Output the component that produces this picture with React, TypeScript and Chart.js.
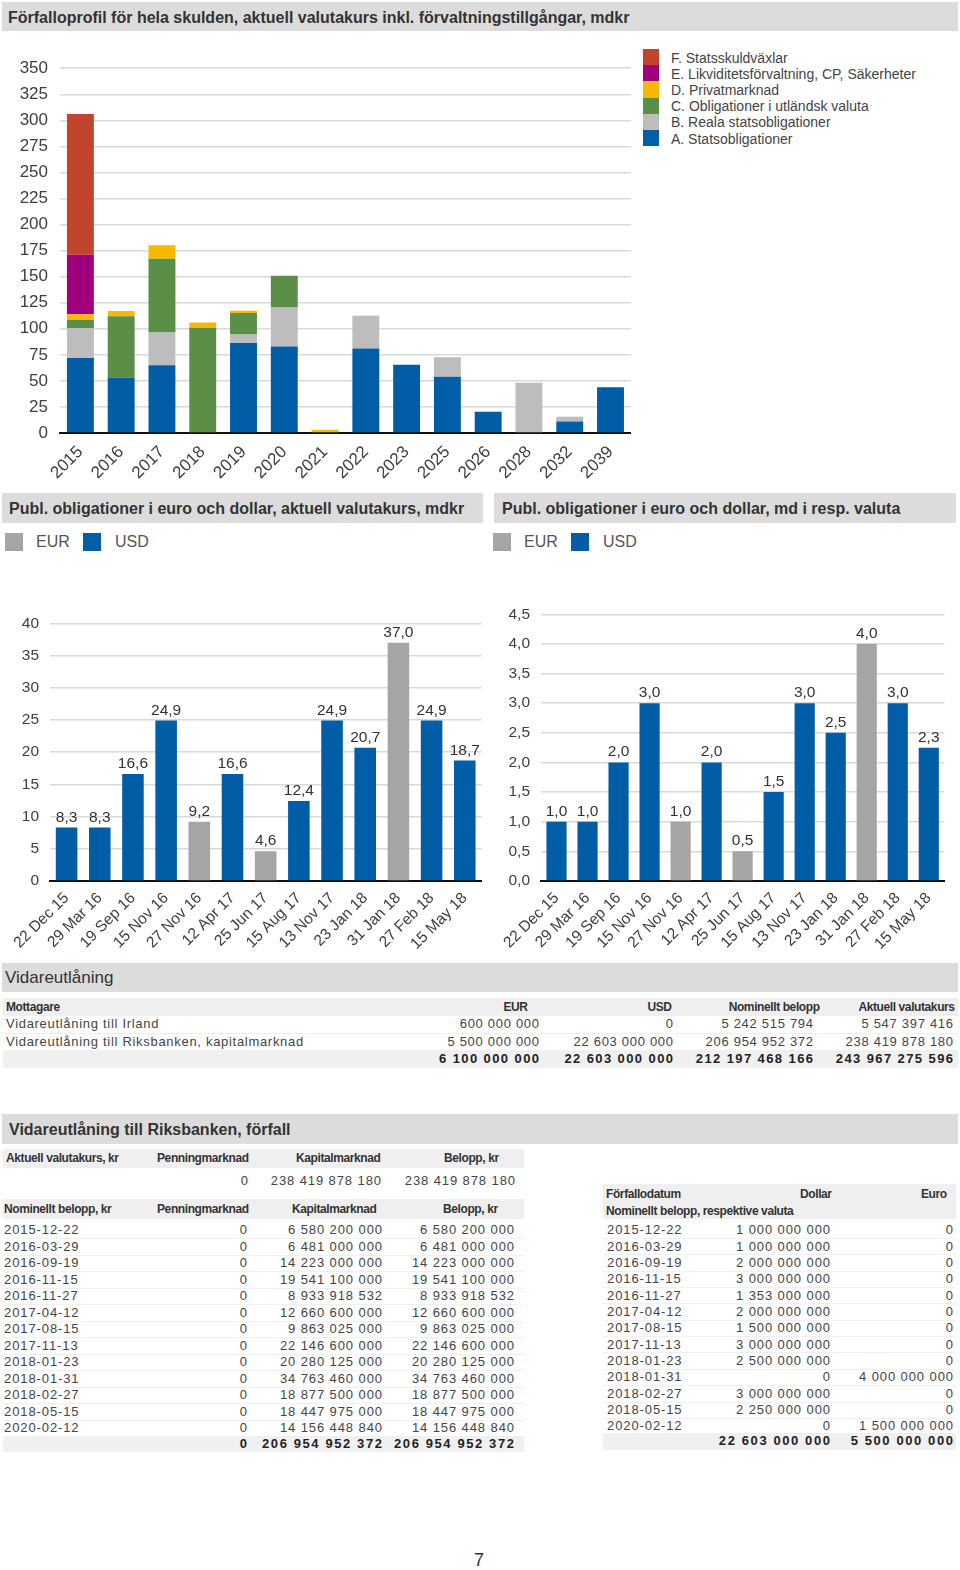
import React, { useEffect, useRef } from "react";
import { Chart, registerables } from "chart.js";
Chart.register(...registerables);

// ---------- Data: top chart ----------
const years = ["2015", "2016", "2017", "2018", "2019", "2020", "2021", "2022", "2023", "2025", "2026", "2028", "2032", "2039"];
const seriesA = [72, 53, 65, 0, 86.4, 83, 0, 81, 65.6, 54, 20.5, 0, 11, 43.8];
const seriesB = [28.5, 0, 31.5, 0, 8, 37.4, 0, 31.4, 0, 18.6, 0, 48.3, 4.5, 0];
const seriesC = [8, 59, 70.7, 101, 20.8, 30.4, 0, 0, 0, 0, 0, 0, 0, 0];
const seriesD = [5.5, 5, 13, 5, 2.2, 0, 3, 0, 0, 0, 0, 0, 0, 0];
const seriesE = [57, 0, 0, 0, 0, 0, 0, 0, 0, 0, 0, 0, 0, 0];
const seriesF = [135, 0, 0, 0, 0, 0, 0, 0, 0, 0, 0, 0, 0, 0];
const seriesNames = [
  "A. Statsobligationer",
  "B. Reala statsobligationer",
  "C. Obligationer i utländsk valuta",
  "D. Privatmarknad",
  "E. Likviditetsförvaltning, CP, Säkerheter",
  "F. Statsskuldväxlar",
];
const seriesColors = ["#005DA6", "#BDBDBD", "#5B8E46", "#F7B800", "#A1007D", "#C2452B"];
const topTicks = { min: 0, max: 350, step: 25 };

// ---------- Data: bottom charts ----------
const bondDates = ["22 Dec 15", "29 Mar 16", "19 Sep 16", "15 Nov 16", "27 Nov 16", "12 Apr 17", "25 Jun 17", "15 Aug 17", "13 Nov 17", "23 Jan 18", "31 Jan 18", "27 Feb 18", "15 May 18"];
const bondCurrency = ["USD", "USD", "USD", "USD", "EUR", "USD", "EUR", "USD", "USD", "USD", "EUR", "USD", "USD"];
const sekValues = [8.3, 8.3, 16.6, 24.9, 9.2, 16.6, 4.6, 12.4, 24.9, 20.7, 37.0, 24.9, 18.7];
const currencyValues = [1.0, 1.0, 2.0, 3.0, 1.0, 2.0, 0.5, 1.5, 3.0, 2.5, 4.0, 3.0, 2.25];
const currencyColors: Record<string, string> = { EUR: "#A5A5A5", USD: "#005DA6" };

// ---------- Data: tables ----------
const t1Headers = ["Mottagare", "EUR", "USD", "Nominellt belopp", "Aktuell valutakurs"];
const t1Names = ["Vidareutlåning till Irland", "Vidareutlåning till Riksbanken, kapitalmarknad"];
const t1Eur = ["600 000 000", "5 500 000 000"];
const t1Usd = ["0", "22 603 000 000"];
const t1Nominal = ["5 242 515 794", "206 954 952 372"];
const t1Current = ["5 547 397 416", "238 419 878 180"];
const t1Totals = ["6 100 000 000", "22 603 000 000", "212 197 468 166", "243 967 275 596"];

const t2TopRow = ["0", "238 419 878 180", "238 419 878 180"];
const t2Dates = ["2015-12-22", "2016-03-29", "2016-09-19", "2016-11-15", "2016-11-27", "2017-04-12", "2017-08-15", "2017-11-13", "2018-01-23", "2018-01-31", "2018-02-27", "2018-05-15", "2020-02-12"];
const t2Kapital = ["6 580 200 000", "6 481 000 000", "14 223 000 000", "19 541 100 000", "8 933 918 532", "12 660 600 000", "9 863 025 000", "22 146 600 000", "20 280 125 000", "34 763 460 000", "18 877 500 000", "18 447 975 000", "14 156 448 840"];
const t2Totals = ["0", "206 954 952 372", "206 954 952 372"];
const t3Dollar = ["1 000 000 000", "1 000 000 000", "2 000 000 000", "3 000 000 000", "1 353 000 000", "2 000 000 000", "1 500 000 000", "3 000 000 000", "2 500 000 000", "0", "3 000 000 000", "2 250 000 000", "0"];
const t3Euro = ["0", "0", "0", "0", "0", "0", "0", "0", "0", "4 000 000 000", "0", "0", "1 500 000 000"];
const t3Totals = ["22 603 000 000", "5 500 000 000"];

const FONT = '"Liberation Sans", Arial, Helvetica, sans-serif';
const TXT = "#404040";

const fmtComma = (v: number) => v.toFixed(1).replace(".", ",");

function Txt(props: { x?: number; r?: number; cy: number; size?: number; bold?: boolean; ls?: number; color?: string; children: any }) {
  const { x, r, cy, size = 13, bold = false, ls = 0, color = "#444", children } = props;
  const style: any = {
    position: "absolute",
    top: cy - size * 0.6,
    lineHeight: `${size * 1.2}px`,
    fontSize: size,
    fontWeight: bold ? 700 : 400,
    letterSpacing: ls,
    color,
    whiteSpace: "nowrap",
    fontFamily: FONT,
  };
  if (r !== undefined) style.right = 960 - r - ls;
  else style.left = x;
  return <div style={style}>{children}</div>;
}

function Box(props: { x: number; y: number; w: number; h: number; bg: string }) {
  return <div style={{ position: "absolute", left: props.x, top: props.y, width: props.w, height: props.h, background: props.bg }} />;
}

function ChartBox(props: { left: number; top: number; width: number; height: number; make: () => any }) {
  const ref = useRef<HTMLCanvasElement>(null);
  useEffect(() => {
    const chart = new Chart(ref.current as HTMLCanvasElement, props.make());
    return () => chart.destroy();
  }, []);
  return (
    <canvas
      ref={ref}
      width={props.width}
      height={props.height}
      style={{ position: "absolute", left: props.left, top: props.top, width: props.width, height: props.height }}
    />
  );
}

function makeTopConfig() {
  const all = [seriesA, seriesB, seriesC, seriesD, seriesE, seriesF];
  return {
    type: "bar",
    data: {
      labels: years,
      datasets: all.map((d, i) => ({
        label: seriesNames[i],
        data: d,
        backgroundColor: seriesColors[i],
        barPercentage: 0.66,
        categoryPercentage: 1,
        borderWidth: 0,
      })),
    },
    options: {
      animation: false,
      responsive: false,
      layout: { padding: { top: 12, right: 2, left: 0, bottom: 0 } },
      plugins: { legend: { display: false }, tooltip: { enabled: false } },
      scales: {
        x: {
          stacked: true,
          grid: { display: false, drawTicks: false },
          border: { color: "#111", width: 2 },
          ticks: { font: { family: FONT, size: 17 }, color: TXT, minRotation: 45, maxRotation: 45, autoSkip: false, padding: 9 },
          afterFit: (s: any) => { s.height = 48; },
        },
        y: {
          stacked: true,
          min: topTicks.min,
          max: topTicks.max,
          ticks: { stepSize: topTicks.step, font: { family: FONT, size: 17 }, color: TXT, padding: 12 },
          grid: { color: "#d9d9d9", lineWidth: 1.5, drawTicks: false },
          border: { display: false },
          afterFit: (s: any) => { s.width = 60; },
        },
      },
    },
  };
}

const valueLabels = {
  id: "valueLabels",
  afterDatasetsDraw(chart: any) {
    const ctx = chart.ctx;
    const meta = chart.getDatasetMeta(0);
    const ds = chart.data.datasets[0];
    ctx.save();
    ctx.font = `15.5px ${FONT}`;
    ctx.fillStyle = "#333";
    ctx.textAlign = "center";
    ctx.textBaseline = "alphabetic";
    meta.data.forEach((el: any, i: number) => {
      ctx.fillText(fmtComma(ds.data[i]), el.x, el.y - 6);
    });
    ctx.restore();
  },
};

function makeBondConfig(values: number[], max: number, step: number, yWidth: number, decimalTicks: boolean) {
  return {
    type: "bar",
    data: {
      labels: bondDates,
      datasets: [
        {
          label: "Publ. obligationer",
          data: values,
          backgroundColor: bondCurrency.map((c) => currencyColors[c]),
          barPercentage: 0.65,
          categoryPercentage: 1,
          borderWidth: 0,
        },
      ],
    },
    plugins: [valueLabels],
    options: {
      animation: false,
      responsive: false,
      layout: { padding: { top: 12, right: 2, left: 0, bottom: 0 } },
      plugins: { legend: { display: false }, tooltip: { enabled: false } },
      scales: {
        x: {
          grid: { display: false, drawTicks: false },
          border: { color: "#111", width: 2 },
          ticks: { font: { family: FONT, size: 15.5 }, color: TXT, minRotation: 45, maxRotation: 45, autoSkip: false, padding: 8 },
          afterFit: (s: any) => { s.height = 70; },
        },
        y: {
          min: 0,
          max,
          ticks: {
            stepSize: step,
            font: { family: FONT, size: 15.5 },
            color: TXT,
            padding: 11,
            callback: (v: number) => (decimalTicks ? fmtComma(v) : String(v)),
          },
          grid: { color: "#d9d9d9", lineWidth: 1.5, drawTicks: false },
          border: { display: false },
          afterFit: (s: any) => { s.width = yWidth; },
        },
      },
    },
  };
}

function TitleBar(props: { x: number; y: number; w: number; h: number; text: string; tx: number; size?: number; bold?: boolean }) {
  return (
    <>
      <Box x={props.x} y={props.y} w={props.w} h={props.h} bg="#dcdcdc" />
      <Txt x={props.tx} cy={props.y + props.h / 2 + 1} size={props.size || 16} bold={props.bold !== false} color="#333">
        {props.text}
      </Txt>
    </>
  );
}

function BondLegend(props: { x: number }) {
  const x = props.x;
  return (
    <>
      <Box x={x} y={533} w={18} h={18} bg={currencyColors.EUR} />
      <Txt x={x + 31} cy={542} size={16} color="#555">EUR</Txt>
      <Box x={x + 78} y={533} w={18} h={18} bg={currencyColors.USD} />
      <Txt x={x + 110} cy={542} size={16} color="#555">USD</Txt>
    </>
  );
}

export default function App() {
  const legendOrder = [5, 4, 3, 2, 1, 0];
  const t2RowCy = (i: number) => 1230 + i * 16.5;
  const t3RowCy = (i: number) => 1230 + i * 16.35;
  return (
    <div style={{ position: "absolute", left: 0, top: 0, width: 960, height: 1570, background: "#fff", overflow: "hidden", fontFamily: FONT }}>
      {/* Top chart */}
      <TitleBar x={2} y={2} w={956} h={29} text="Förfalloprofil för hela skulden, aktuell valutakurs inkl. förvaltningstillgångar, mdkr" tx={8} />
      <ChartBox left={0} top={46} width={634} height={435} make={makeTopConfig} />
      {legendOrder.map((si, k) => (
        <React.Fragment key={si}>
          <Box x={643} y={49 + k * 16.2} w={16} h={16.2} bg={seriesColors[si]} />
          <Txt x={671} cy={58 + k * 16.2} size={14} color="#444">{seriesNames[si]}</Txt>
        </React.Fragment>
      ))}

      {/* Bottom-left chart */}
      <TitleBar x={2} y={493} w={481} h={30} text="Publ. obligationer i euro och dollar, aktuell valutakurs, mdkr" tx={9} />
      <BondLegend x={5} />
      <ChartBox left={0} top={603} width={486} height={348} make={() => makeBondConfig(sekValues, 40, 5, 50, false)} />

      {/* Bottom-right chart */}
      <TitleBar x={494} y={493} w={462} h={30} text="Publ. obligationer i euro och dollar, md i resp. valuta" tx={502} />
      <BondLegend x={493} />
      <ChartBox left={490} top={594} width={460} height={357} make={() => makeBondConfig(currencyValues, 4.5, 0.5, 51, true)} />

      {/* Vidareutlåning table */}
      <TitleBar x={2} y={963} w={956} h={29} text="Vidareutlåning" tx={5} size={17} bold={false} />
      <Box x={3} y={998} w={955} h={18} bg="#efefef" />
      <Txt x={6} cy={1007} size={12} bold ls={-0.4} color="#333">{t1Headers[0]}</Txt>
      <Txt r={528} cy={1007} size={12} bold ls={-0.4} color="#333">{t1Headers[1]}</Txt>
      <Txt r={672} cy={1007} size={12} bold ls={-0.4} color="#333">{t1Headers[2]}</Txt>
      <Txt r={820} cy={1007} size={12} bold ls={-0.4} color="#333">{t1Headers[3]}</Txt>
      <Txt r={955} cy={1007} size={12} bold ls={-0.4} color="#333">{t1Headers[4]}</Txt>
      {t1Names.map((n, i) => (
        <React.Fragment key={n}>
          <Box x={3} y={1033 + i * 17.5} w={955} h={1} bg="#eeeeee" />
          <Txt x={6} cy={1024 + i * 17.5} size={13} ls={0.7}>{n}</Txt>
          <Txt r={539} cy={1024 + i * 17.5} size={13} ls={0.7}>{t1Eur[i]}</Txt>
          <Txt r={673} cy={1024 + i * 17.5} size={13} ls={0.7}>{t1Usd[i]}</Txt>
          <Txt r={813} cy={1024 + i * 17.5} size={13} ls={0.7}>{t1Nominal[i]}</Txt>
          <Txt r={953} cy={1024 + i * 17.5} size={13} ls={0.7}>{t1Current[i]}</Txt>
        </React.Fragment>
      ))}
      <Box x={3} y={1050} w={955} h={18} bg="#f0f0f0" />
      {[539, 673, 813, 953].map((r, i) => (
        <Txt key={r} r={r} cy={1059} size={13} bold ls={1.4} color="#222">{t1Totals[i]}</Txt>
      ))}

      {/* Riksbanken förfall */}
      <TitleBar x={2} y={1114} w={956} h={30} text="Vidareutlåning till Riksbanken, förfall" tx={9} />
      <Box x={3} y={1149} w={521} h={19} bg="#efefef" />
      <Txt x={6} cy={1158} size={12} bold ls={-0.4} color="#333">Aktuell valutakurs, kr</Txt>
      <Txt x={157} cy={1158} size={12} bold ls={-0.4} color="#333">Penningmarknad</Txt>
      <Txt x={296} cy={1158} size={12} bold ls={-0.4} color="#333">Kapitalmarknad</Txt>
      <Txt x={444} cy={1158} size={12} bold ls={-0.4} color="#333">Belopp, kr</Txt>
      <Txt r={248} cy={1181} size={13} ls={0.9}>{t2TopRow[0]}</Txt>
      <Txt r={381} cy={1181} size={13} ls={0.9}>{t2TopRow[1]}</Txt>
      <Txt r={515} cy={1181} size={13} ls={0.9}>{t2TopRow[2]}</Txt>

      <Box x={3} y={1199} w={521} h={20} bg="#efefef" />
      <Txt x={4} cy={1209} size={12} bold ls={-0.4} color="#333">Nominellt belopp, kr</Txt>
      <Txt x={157} cy={1209} size={12} bold ls={-0.4} color="#333">Penningmarknad</Txt>
      <Txt x={292} cy={1209} size={12} bold ls={-0.4} color="#333">Kapitalmarknad</Txt>
      <Txt x={443} cy={1209} size={12} bold ls={-0.4} color="#333">Belopp, kr</Txt>
      {t2Dates.map((d, i) => (
        <React.Fragment key={d}>
          <Box x={3} y={t2RowCy(i) + 8} w={521} h={1} bg="#f0f0f0" />
          <Txt x={4} cy={t2RowCy(i)} size={13} ls={0.9}>{d}</Txt>
          <Txt r={247} cy={t2RowCy(i)} size={13} ls={0.9}>0</Txt>
          <Txt r={382} cy={t2RowCy(i)} size={13} ls={0.9}>{t2Kapital[i]}</Txt>
          <Txt r={514} cy={t2RowCy(i)} size={13} ls={0.9}>{t2Kapital[i]}</Txt>
        </React.Fragment>
      ))}
      <Box x={3} y={1436} w={521} h={16} bg="#f0f0f0" />
      <Txt r={247} cy={1444} size={13} bold ls={1.6} color="#222">{t2Totals[0]}</Txt>
      <Txt r={382} cy={1444} size={13} bold ls={1.6} color="#222">{t2Totals[1]}</Txt>
      <Txt r={514} cy={1444} size={13} bold ls={1.6} color="#222">{t2Totals[2]}</Txt>

      {/* Currency table */}
      <Box x={603} y={1184} w={353} h={35} bg="#efefef" />
      <Txt x={606} cy={1194} size={12} bold ls={-0.4} color="#333">Förfallodatum</Txt>
      <Txt r={832} cy={1194} size={12} bold ls={-0.4} color="#333">Dollar</Txt>
      <Txt r={947} cy={1194} size={12} bold ls={-0.4} color="#333">Euro</Txt>
      <Txt x={606} cy={1211} size={12} bold ls={-0.4} color="#333">Nominellt belopp, respektive valuta</Txt>
      {t2Dates.map((d, i) => (
        <React.Fragment key={"c" + d}>
          <Box x={603} y={t3RowCy(i) + 8} w={353} h={1} bg="#f0f0f0" />
          <Txt x={607} cy={t3RowCy(i)} size={13} ls={0.9}>{d}</Txt>
          <Txt r={830} cy={t3RowCy(i)} size={13} ls={0.9}>{t3Dollar[i]}</Txt>
          <Txt r={953} cy={t3RowCy(i)} size={13} ls={0.9}>{t3Euro[i]}</Txt>
        </React.Fragment>
      ))}
      <Box x={603} y={1433} w={353} h={17} bg="#f0f0f0" />
      <Txt r={830} cy={1441} size={13} bold ls={1.6} color="#222">{t3Totals[0]}</Txt>
      <Txt r={953} cy={1441} size={13} bold ls={1.6} color="#222">{t3Totals[1]}</Txt>

      <Txt x={474} cy={1561} size={18} color="#333">7</Txt>
    </div>
  );
}
